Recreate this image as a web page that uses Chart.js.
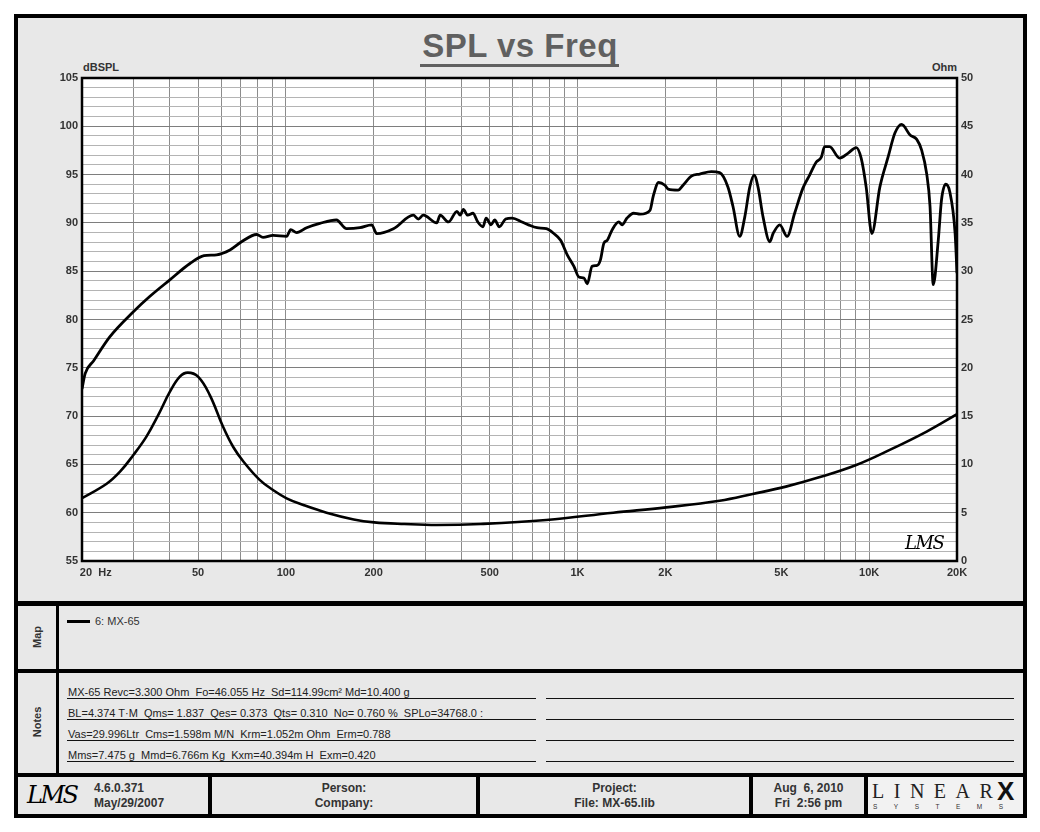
<!DOCTYPE html>
<html>
<head>
<meta charset="utf-8">
<title>SPL vs Freq</title>
<script src="https://cdn.jsdelivr.net/npm/chart.js@4.4.1/dist/chart.umd.min.js"></script>
<style>
  html, body { margin: 0; padding: 0; background: #fff; }
  body { width: 1040px; height: 832px; position: relative; overflow: hidden;
         font-family: "Liberation Sans", Arial, sans-serif; color: #333; }
  .abs { position: absolute; }
  .blk { position: absolute; background: #000; }
  #frame { left: 14px; top: 14px; width: 1013px; height: 804px; box-sizing: border-box;
           border: 4px solid #000; background: #e8e8e8; }
  #plotBox { left: 18px; top: 18px; width: 1004px; height: 583px; }
  .title { left: 320px; width: 400px; top: 29px; text-align: center; font-size: 33px; line-height: 33px;
           font-weight: bold; color: #606060; letter-spacing: 0.5px; }
  .axname { top: 60px; font-size: 11px; font-weight: bold; color: #333; line-height: 14px; }
  .side { font-size: 11px; font-weight: bold; color: #333; transform: translate(-50%, -50%) rotate(-90deg);
          white-space: nowrap; }
  .note { left: 68px; font-size: 11px; line-height: 13px; color: #222; white-space: pre; }
  .uline { height: 1px; background: #111; }
  .foot { font-size: 12px; font-weight: bold; color: #333; line-height: 15px; text-align: center; }
  .lms { font-family: "DejaVu Serif", serif; font-style: italic; color: #000; letter-spacing: -1.5px; }
</style>
</head>
<body>
<div id="frame" class="abs"></div>

<!-- chart panel -->
<div class="abs title">SPL vs Freq</div>
<div class="abs" style="left:420px;top:64px;width:199px;height:3px;background:#606060"></div>
<div class="abs axname" style="left:83px">dBSPL</div>
<div class="abs axname" style="left:857px;width:100px;text-align:right">Ohm</div>
<div id="plotBox" class="abs"><canvas id="splChart"></canvas></div>
<div class="abs lms" style="left:905px;top:532px;font-size:18px;z-index:2">LMS</div>

<!-- panel dividers -->
<div class="blk" style="left:18px;top:601px;width:1005px;height:5px"></div>
<div class="blk" style="left:18px;top:669px;width:1005px;height:4px"></div>
<div class="blk" style="left:18px;top:773px;width:1005px;height:4px"></div>
<div class="blk" style="left:56px;top:606px;width:3px;height:167px"></div>

<!-- map -->
<div class="abs side" style="left:37px;top:637px">Map</div>
<div class="blk" style="left:67px;top:620px;width:23px;height:2.5px"></div>
<div class="abs" style="left:95px;top:614px;font-size:11px;line-height:14px;color:#333">6: MX-65</div>

<!-- notes -->
<div class="abs side" style="left:37px;top:722px">Notes</div>
<div class="abs note" style="top:686px">MX-65 Revc=3.300 Ohm  Fo=46.055 Hz  Sd=114.99cm² Md=10.400 g</div>
<div class="abs note" style="top:707px">BL=4.374 T·M  Qms= 1.837  Qes= 0.373  Qts= 0.310  No= 0.760 %  SPLo=34768.0 :</div>
<div class="abs note" style="top:728px">Vas=29.996Ltr  Cms=1.598m M/N  Krm=1.052m Ohm  Erm=0.788</div>
<div class="abs note" style="top:749px">Mms=7.475 g  Mmd=6.766m Kg  Kxm=40.394m H  Exm=0.420</div>
<div class="abs uline" style="left:67px;top:698px;width:469px"></div>
<div class="abs uline" style="left:67px;top:719px;width:469px"></div>
<div class="abs uline" style="left:67px;top:740px;width:469px"></div>
<div class="abs uline" style="left:67px;top:761px;width:469px"></div>
<div class="abs uline" style="left:546px;top:698px;width:468px"></div>
<div class="abs uline" style="left:546px;top:719px;width:468px"></div>
<div class="abs uline" style="left:546px;top:740px;width:468px"></div>
<div class="abs uline" style="left:546px;top:761px;width:468px"></div>

<!-- footer -->
<div class="blk" style="left:208px;top:777px;width:4px;height:37px"></div>
<div class="blk" style="left:476px;top:777px;width:4px;height:37px"></div>
<div class="blk" style="left:749px;top:777px;width:4px;height:37px"></div>
<div class="blk" style="left:864px;top:777px;width:4px;height:37px"></div>
<div class="abs" style="left:868px;top:777px;width:155px;height:37px;background:#f2f2f2"></div>
<div class="abs lms" style="left:27px;top:781px;font-size:24px;letter-spacing:-2.5px">LMS</div>
<div class="abs foot" style="left:94px;top:781px;text-align:left">4.6.0.371<br>May/29/2007</div>
<div class="abs foot" style="left:212px;top:781px;width:264px">Person:<br>Company:</div>
<div class="abs foot" style="left:480px;top:781px;width:269px">Project:<br>File: MX-65.lib</div>
<div class="abs foot" style="left:753px;top:781px;width:111px;white-space:pre">Aug  6, 2010<br>Fri  2:56 pm</div>
<div class="abs" style="left:872px;top:781px;font-family:'Liberation Serif',serif;font-size:20px;line-height:20px;letter-spacing:9.5px;color:#222">LINEAR</div>
<div class="abs" style="left:997px;top:779px;font-family:'Liberation Sans',Arial,sans-serif;font-weight:900;font-size:26px;line-height:24px;color:#111">X</div>
<div class="abs" style="left:873px;top:803px;font-size:6.5px;line-height:8px;letter-spacing:16.5px;color:#333">SYSTEMS</div>

<script>
// SPL response (dB)
const splFreq = [20, 20.5, 21.9, 24.9, 30, 34.2, 40, 46.9, 52.4, 57.9, 64.3, 70.5, 79.4, 83.5, 90.4, 100.6,
  103.9, 108.9, 117.8, 130.8, 149, 161.5, 179.4, 196.9, 204.9, 233.8, 273.4, 284.6, 296, 329, 338, 361,
  386, 396, 406, 420, 438, 455, 474, 486, 505, 520, 539, 567, 597, 645, 679, 726, 782, 829, 875, 922,
  972, 1011, 1052, 1080, 1122, 1168, 1199, 1231, 1264, 1315, 1385, 1422, 1478, 1557, 1640, 1772, 1819,
  1897, 1993, 2045, 2213, 2300, 2457, 2624, 2876, 3070, 3280, 3412, 3598, 3744, 3895, 4030, 4158, 4327,
  4563, 4683, 4938, 5230, 5551, 5926, 6248, 6586, 6852, 7030, 7310, 7920, 8452, 9028, 9386, 9764, 10210,
  10876, 11617, 12251, 12920, 13804, 14555, 15140, 15740, 16165, 16580, 17250, 17700, 18300, 18900,
  19700, 20000];
const splDb = [72.8, 74.4, 75.7, 78.2, 80.8, 82.4, 84.1, 85.8, 86.6, 86.7, 87.2, 88.05, 88.8, 88.5, 88.7, 88.6,
  89.3, 89.0, 89.5, 89.95, 90.3, 89.4, 89.5, 89.8, 88.9, 89.4, 90.8, 90.4, 90.8, 90.0, 90.8, 90.1,
  91.2, 90.8, 91.4, 90.8, 91.0, 90.1, 89.6, 90.5, 89.8, 90.3, 89.6, 90.4, 90.5, 90.1, 89.8, 89.5, 89.4, 88.9, 88.2, 86.7,
  85.5, 84.4, 84.3, 83.7, 85.5, 85.6, 86.2, 87.9, 88.2, 89.3, 90.1, 89.8, 90.5, 91.0, 90.9, 91.3, 92.8,
  94.2, 93.9, 93.5, 93.4, 93.9, 94.85, 95.06, 95.3, 95.2, 93.7, 91.7, 88.6, 90.6, 93.7, 94.95, 93.7, 90.6,
  88.05, 88.9, 89.8, 88.6, 91.0, 93.6, 94.95, 96.3, 96.8, 97.9, 97.9, 96.7, 97.2, 97.8, 96.7, 93.7, 88.9,
  93.7, 96.85, 99.3, 100.2, 99.1, 98.65, 97.5, 95.1, 91.7, 83.6, 88.2, 92.4, 94.0, 93.2,
  88.95, 84.8];

// impedance (Ohm)
const zFreq = [20, 24.3, 27, 30, 33.3, 36.5, 40, 43.3, 46.1, 50, 54.8, 60.9, 66, 71.5, 81.3, 90.4, 100.6,
  114.8, 137.9, 170.9, 200.8, 254.5, 329, 466, 781, 1325, 2013, 3070, 3987, 5180, 6735, 9028, 11760,
  15740, 20000];
const zOhm = [6.5, 8.0, 9.25, 10.97, 12.9, 15.1, 17.5, 19.08, 19.5, 19.08, 17.2, 13.9, 11.8, 10.3, 8.4, 7.35, 6.49,
  5.8, 5.0, 4.3, 4.0, 3.83, 3.73, 3.83, 4.24, 5.0, 5.55, 6.24, 6.94, 7.7, 8.66, 9.94, 11.5,
  13.4, 15.2];

// grid lines and their labels
const gridFreqs = [20, 30, 40, 50, 60, 70, 80, 90, 100, 200, 300, 400, 500, 600, 700, 800, 900,
  1000, 2000, 3000, 4000, 5000, 6000, 7000, 8000, 9000, 10000, 20000];
const freqLabels = { 20: '         20  Hz', 50: '50', 100: '100', 200: '200', 500: '500',
  1000: '1K', 2000: '2K', 5000: '5K', 10000: '10K', 20000: '20K' };

const tickFont = { family: '"Liberation Sans", Arial, sans-serif', size: 11, weight: 'bold' };

// white plot background + black frame round it
const plotFrame = {
  id: 'plotFrame',
  beforeDraw(chart) {
    const { ctx, chartArea: a } = chart;
    ctx.save();
    ctx.fillStyle = '#fff';
    ctx.fillRect(a.left, a.top, a.width, a.height);
    ctx.restore();
  },
  afterDatasetsDraw(chart) {
    const { ctx, chartArea: a } = chart;
    ctx.save();
    ctx.strokeStyle = '#000';
    ctx.lineWidth = 2.5;
    ctx.strokeRect(a.left, a.top, a.width, a.height);
    ctx.restore();
  }
};

new Chart(document.getElementById('splChart'), {
  type: 'line',
  data: {
    datasets: [
      {
        label: 'SPL',
        data: splFreq.map((f, i) => ({ x: f, y: splDb[i] })),
        yAxisID: 'y',
        borderColor: '#000',
        borderWidth: 2.8,
        pointRadius: 0,
        cubicInterpolationMode: 'monotone'
      },
      {
        label: 'Impedance',
        data: zFreq.map((f, i) => ({ x: f, y: zOhm[i] })),
        yAxisID: 'y1',
        borderColor: '#000',
        borderWidth: 2.6,
        pointRadius: 0,
        tension: 0.4
      }
    ]
  },
  options: {
    responsive: true,
    maintainAspectRatio: false,
    animation: false,
    events: [],
    layout: { padding: { top: 60, left: 0, right: 0, bottom: 0 } },
    plugins: { legend: { display: false }, tooltip: { enabled: false } },
    scales: {
      x: {
        type: 'logarithmic',
        min: 20,
        max: 20000,
        afterBuildTicks: (axis) => { axis.ticks = gridFreqs.map(v => ({ value: v })); },
        afterFit: (scale) => { scale.height = 40; },
        ticks: {
          autoSkip: false,
          maxRotation: 0,
          padding: 5,
          color: '#333',
          font: tickFont,
          callback: (v) => freqLabels[v] || ''
        },
        grid: { color: '#8c8c8c', lineWidth: 1, drawTicks: false },
        border: { display: false }
      },
      y: {
        position: 'left',
        min: 55,
        max: 105,
        afterFit: (scale) => { scale.width = 64; },
        ticks: {
          stepSize: 1,
          autoSkip: false,
          padding: 4,
          color: '#333',
          font: tickFont,
          callback: (v) => (v % 5 === 0 ? v : '')
        },
        grid: {
          drawTicks: false,
          lineWidth: 1,
          color: (c) => (c.tick && c.tick.value % 5 === 0 ? '#7e7e7e' : '#b4b4b4')
        },
        border: { display: false }
      },
      y1: {
        position: 'right',
        min: 0,
        max: 50,
        afterFit: (scale) => { scale.width = 65; },
        ticks: { stepSize: 5, padding: 4, color: '#333', font: tickFont },
        grid: { drawOnChartArea: false, drawTicks: false },
        border: { display: false }
      }
    }
  },
  plugins: [plotFrame]
});
</script>
</body>
</html>
